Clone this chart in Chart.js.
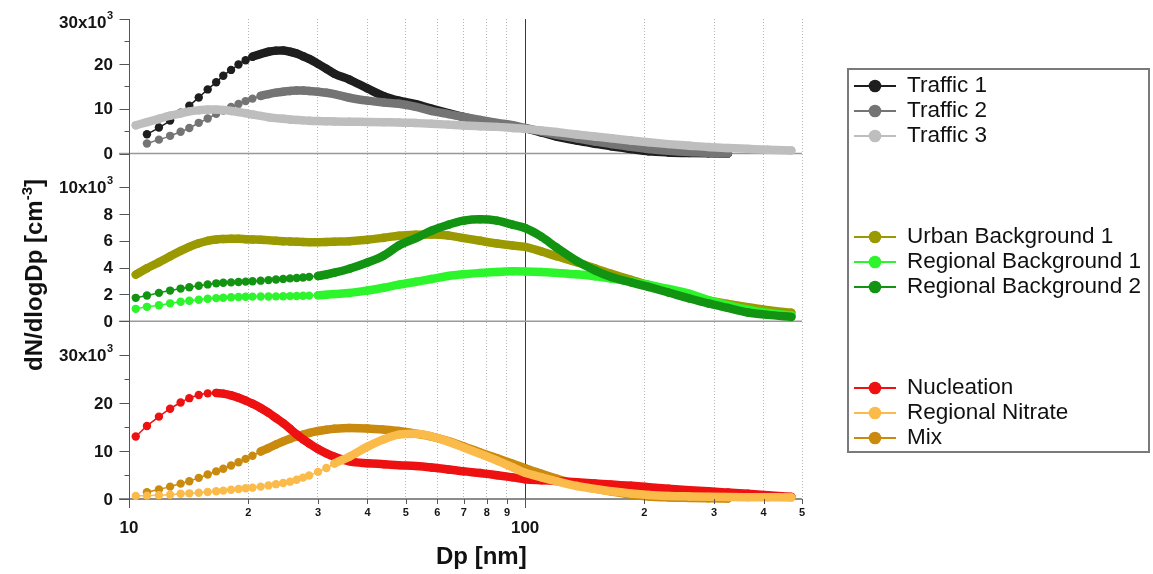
<!DOCTYPE html>
<html>
<head>
<meta charset="utf-8">
<title>Particle number size distributions</title>
<script src="https://cdn.jsdelivr.net/npm/chart.js@4.4.1/dist/chart.umd.min.js"></script>
<style>
  html, body { margin: 0; padding: 0; background: #fff; }
  #wrap { position: relative; width: 1153px; height: 574px; overflow: hidden;
          font-family: 'Liberation Sans', Arial, sans-serif; color: #111; }
  #plot { position: absolute; left: 0; top: 0; }
  .axis-title { position: absolute; font-weight: bold; font-size: 24px; white-space: nowrap; }
  #ytitle { left: -86px; top: 260px; width: 240px; height: 30px; line-height: 30px;
            text-align: center; transform: rotate(-90deg); }
  #ytitle sup { font-size: 15px; line-height: 0; vertical-align: 0; position: relative; top: -10px; }
  #xtitle { left: 436px; top: 542px; line-height: 28px; }
  #legend { position: absolute; left: 847px; top: 68px; width: 303px; height: 385px;
            border: 2px solid #7a7a7a; box-sizing: border-box; }
  .entry { position: absolute; left: 854px; height: 25px; display: flex; align-items: center;
           font-size: 22.5px; white-space: nowrap; }
  .entry span { margin-left: 11px; position: relative; top: -1px; }
</style>
</head>
<body>
<div id="wrap">
  <canvas id="plot" width="1153" height="574"></canvas>
  <div id="ytitle" class="axis-title">dN/dlogDp [cm<sup>-3</sup>]</div>
  <div id="xtitle" class="axis-title">Dp [nm]</div>
  <div id="legend"></div>
</div>
<script>
const FONT = "'Liberation Sans', Arial, sans-serif";

// mobility diameter bins, nm
const dp = [10.4, 11.1, 11.9, 12.7, 13.5, 14.2, 15.0, 15.8, 16.6, 17.3, 18.1, 18.9, 19.7, 20.5,
  21.5, 22.5, 23.5, 24.5, 25.5, 26.5, 27.5, 28.5, 30, 31.5, 33,
  36, 40, 44, 48, 53, 58, 64, 70, 77, 85, 93, 100, 110, 120, 135, 150, 165, 185, 205, 230, 260, 290, 325, 365, 410, 470];

// dN/dlogDp, cm-3
const traffic1 = [null, 4300, 5800, 7350, 9100, 10650, 12500, 14300, 15900, 17350, 18650, 19850, 20800, 21600,
  22200, 22700, 22950, 23000, 22700, 22300, 21700, 21100, 20000, 18900, 17800,
  16500, 14500, 12800, 11800, 11000, 10000, 9000, 8150, 7300, 6700, 6100, 5600, 4700, 3800, 2900, 2200, 1600, 1000, 500, 250, 120, 50, 0, null, null, null];
const traffic2 = [null, 2250, 3100, 3950, 4850, 5700, 6850, 7800, 8850, 9600, 10400, 11050, 11700, 12250,
  12850, 13250, 13580, 13800, 13950, 14050, 14050, 13950, 13800, 13550, 13250,
  12450, 11800, 11400, 11100, 10400, 9500, 8800, 8150, 7500, 6850, 6300, 5700, 4900, 4200, 3400, 2700, 2100, 1500, 1000, 600, 320, 170, 50, null, null, null];
const traffic3 = [6300, 7000, 7750, 8450, 8950, 9400, 9650, 9800, 9800, 9700, 9500, 9250, 9000, 8700,
  8400, 8100, 7900, 7750, 7600, 7500, 7400, 7320, 7250, 7200, 7150,
  7100, 7050, 7000, 6950, 6800, 6650, 6450, 6250, 6100, 5950, 5700, 5500, 5150, 4800, 4250, 3800, 3400, 2900, 2500, 2100, 1750, 1450, 1250, 1050, 850, 680];

const urbanBg1 = [3480, 3950, 4400, 4850, 5250, 5550, 5820, 6000, 6100, 6130, 6150, 6150, 6120, 6100,
  6080, 6050, 6000, 5970, 5950, 5930, 5910, 5900, 5900, 5910, 5930,
  5970, 6080, 6230, 6380, 6450, 6470, 6400, 6200, 6000, 5800, 5650, 5550, 5200, 4850, 4400, 3950, 3550, 3100, 2700, 2300, 1900, 1550, 1300, 1060, 830, 640];
const regionalBg1 = [930, 1080, 1200, 1340, 1460, 1530, 1610, 1680, 1730, 1760, 1790, 1810, 1830, 1840,
  1850, 1855, 1860, 1870, 1880, 1890, 1900, 1915, 1945, 1985, 2030,
  2110, 2300, 2500, 2730, 2950, 3150, 3380, 3510, 3610, 3680, 3730, 3720, 3680, 3610, 3500, 3350, 3180, 2960, 2720, 2420, 2050, 1580, 1200, 860, 620, 430];
const regionalBg2 = [1750, 1920, 2120, 2290, 2440, 2540, 2650, 2750, 2830, 2870, 2900, 2930, 2960, 2990,
  3030, 3070, 3120, 3160, 3200, 3230, 3270, 3310, 3380, 3490, 3620,
  3920, 4380, 4900, 5650, 6200, 6750, 7200, 7500, 7600, 7500, 7200, 6950, 6300, 5500, 4500, 3800, 3300, 2900, 2560, 2150, 1700, 1330, 1000, 660, 480, 330];

const nucleation = [13000, 15200, 17150, 18800, 20100, 21000, 21650, 22000, 22100, 21950, 21600, 21100, 20500, 19850,
  18950, 17950, 16850, 15800, 14650, 13450, 12450, 11550, 10400, 9500, 8800,
  7850, 7450, 7250, 7050, 6850, 6550, 6150, 5750, 5400, 4950, 4500, 4100, 3900, 3750, 3500, 3250, 3000, 2750, 2450, 2150, 1850, 1600, 1350, 1100, 800, 450];
const regionalNitrate = [650, 700, 800, 900, 1080, 1180, 1290, 1460, 1600, 1750, 1940, 2100, 2230, 2360,
  2580, 2830, 3090, 3330, 3610, 4000, 4450, 4900, 5650, 6450, 7400,
  8800, 10900, 12450, 13400, 13600, 13050, 11950, 10700, 9400, 8000, 6600, 5450, 4500, 3700, 2700, 2100, 1600, 1150, 850, 650, 530, 450, 400, 370, 350, 330];
const mix = [null, 1420, 2000, 2580, 3200, 3700, 4400, 5100, 5750, 6300, 6980, 7650, 8350, 9000,
  9900, 10600, 11350, 12000, 12550, 13000, 13400, 13750, 14150, 14420, 14620,
  14800, 14700, 14450, 14150, 13600, 13000, 12050, 10950, 9700, 8500, 7350, 6400, 5250, 4250, 3000, 2150, 1550, 900, 520, 330, 230, 160, 100, null, null, null];

// axis ticks
const xTickValues = [10, 20, 30, 40, 50, 60, 70, 80, 90, 100, 200, 300, 400, 500];
const topMajor = [0, 10000, 20000, 30000];
const topMinor = [5000, 15000, 25000];
const midMajor = [0, 2000, 4000, 6000, 8000, 10000];
const botMajor = [0, 10000, 20000, 30000];
const botMinor = [5000, 15000, 25000];

const panels = [
  { axis: 'yTop', major: topMajor, minor: topMinor },
  { axis: 'yMid', major: midMajor, minor: [] },
  { axis: 'yBot', major: botMajor, minor: botMinor }
];

// bandFrom: diameter where the markers merge into a solid band
const series = [
  { label: 'Traffic 1', data: traffic1, color: '#1e1e1e', axis: 'yTop', bandFrom: 20.5, order: 3, legendY: 86 },
  { label: 'Traffic 2', data: traffic2, color: '#747474', axis: 'yTop', bandFrom: 21.5, order: 2, legendY: 111 },
  { label: 'Traffic 3', data: traffic3, color: '#bebebe', axis: 'yTop', bandFrom: 0, order: 1, legendY: 136 },
  { label: 'Urban Background 1', data: urbanBg1, color: '#9a9a00', axis: 'yMid', bandFrom: 0, order: 6, legendY: 237 },
  { label: 'Regional Background 1', data: regionalBg1, color: '#2cf52c', axis: 'yMid', bandFrom: 30, order: 5, legendY: 262 },
  { label: 'Regional Background 2', data: regionalBg2, color: '#129412', axis: 'yMid', bandFrom: 30, order: 4, legendY: 287 },
  { label: 'Nucleation', data: nucleation, color: '#ee1111', axis: 'yBot', bandFrom: 16.6, order: 8, legendY: 388 },
  { label: 'Regional Nitrate', data: regionalNitrate, color: '#fbbb4a', axis: 'yBot', bandFrom: 33, order: 7, legendY: 413 },
  { label: 'Mix', data: mix, color: '#c98a0e', axis: 'yBot', bandFrom: 21.5, order: 9, legendY: 438 }
];

const datasets = series.map(s => ({
  label: s.label,
  data: dp.map((d, i) => ({ x: d, y: s.data[i] })),
  yAxisID: s.axis,
  order: s.order,
  borderColor: s.color,
  backgroundColor: s.color,
  pointBackgroundColor: s.color,
  pointBorderWidth: 0,
  pointRadius: 4.2,
  borderWidth: 1.5,
  borderCapStyle: 'round',
  borderJoinStyle: 'round',
  cubicInterpolationMode: 'monotone',
  clip: 6,
  segment: {
    borderWidth: ctx => (ctx.p0.parsed.x >= s.bandFrom ? 8.5 : 1.5)
  }
}));

const gridColor = v => {
  if (v === 10) return 'rgba(0,0,0,0)';
  if (v === 100) return '#3a3a3a';
  return '#b4b4b4';
};

const drawYLabel = (ctx, text, sup, right, y) => {
  ctx.textBaseline = 'middle';
  let r = right;
  if (sup) {
    ctx.font = 'bold 11px ' + FONT;
    ctx.textAlign = 'left';
    const w = ctx.measureText(sup).width;
    ctx.fillText(sup, right - w, y - 7);
    r = right - w - 0.5;
  }
  ctx.font = 'bold 17px ' + FONT;
  ctx.textAlign = 'right';
  ctx.fillText(text, r, y);
};

// zero lines, left axis, tick marks and tick labels for the three panels
const panelFrame = {
  id: 'panelFrame',
  beforeDatasetsDraw(chart) {
    const { ctx, chartArea: area, scales } = chart;
    ctx.save();
    ctx.lineWidth = 1.5;
    for (const p of panels) {
      const y = scales[p.axis].getPixelForValue(0);
      ctx.strokeStyle = p.axis === 'yBot' ? '#666' : '#999';
      ctx.beginPath();
      ctx.moveTo(area.left - 10, y);
      ctx.lineTo(area.right, y);
      ctx.stroke();
    }
    ctx.restore();
  },
  afterDraw(chart) {
    const { ctx, chartArea: area, scales } = chart;
    const ax = Math.round(area.left) + 0.5;
    const base = area.bottom;
    ctx.save();
    ctx.strokeStyle = '#555';
    ctx.lineWidth = 1;
    ctx.beginPath();
    ctx.moveTo(ax, area.top);
    ctx.lineTo(ax, base + 9);
    ctx.stroke();

    ctx.fillStyle = '#151515';
    for (const p of panels) {
      const s = scales[p.axis];
      ctx.beginPath();
      for (const v of p.major) {
        const y = Math.round(s.getPixelForValue(v)) + 0.5;
        ctx.moveTo(ax - 10, y);
        ctx.lineTo(ax, y);
      }
      for (const v of p.minor) {
        const y = Math.round(s.getPixelForValue(v)) + 0.5;
        ctx.moveTo(ax - 5, y);
        ctx.lineTo(ax, y);
      }
      ctx.stroke();
      const top = p.major[p.major.length - 1];
      for (const v of p.major) {
        const y = Math.max(s.getPixelForValue(v) + 1, area.top + 4);
        if (v === top) drawYLabel(ctx, (v / 1000) + 'x10', '3', ax - 16.5, y);
        else drawYLabel(ctx, String(v / 1000), '', ax - 16.5, y);
      }
    }

    const xs = scales.x;
    ctx.beginPath();
    for (const v of xTickValues) {
      const x = Math.round(xs.getPixelForValue(v)) + 0.5;
      const big = v === 10 || v === 100;
      ctx.moveTo(x, base);
      ctx.lineTo(x, base + (big ? 9 : 5));
    }
    ctx.stroke();
    ctx.textAlign = 'center';
    ctx.textBaseline = 'middle';
    for (const v of xTickValues) {
      const x = xs.getPixelForValue(v);
      if (v === 10 || v === 100) {
        ctx.font = 'bold 17px ' + FONT;
        ctx.fillText(String(v), x, base + 29);
      } else {
        ctx.font = 'bold 11px ' + FONT;
        ctx.fillText(String(Math.round(v / 10 ** Math.floor(Math.log10(v)))), x, base + 14);
      }
    }
    ctx.restore();
  }
};

const panelAxis = (max, weight) => ({
  type: 'linear',
  position: 'left',
  stack: 'panels',
  stackWeight: weight,
  min: 0,
  max,
  ticks: { display: false },
  grid: { display: false },
  border: { display: false },
  afterFit: s => { s.width = 129; }
});

new Chart(document.getElementById('plot'), {
  type: 'line',
  data: { datasets },
  options: {
    responsive: false,
    animation: false,
    events: [],
    layout: { padding: { top: 19, right: 351, left: 0, bottom: 0 } },
    plugins: { legend: { display: false }, tooltip: { enabled: false } },
    scales: {
      x: {
        type: 'logarithmic',
        min: 10,
        max: 500,
        afterBuildTicks: s => { s.ticks = xTickValues.map(v => ({ value: v })); },
        afterFit: s => { s.height = 75; },
        ticks: { display: false },
        grid: {
          drawTicks: false,
          lineWidth: 1,
          color: c => gridColor(c.tick ? c.tick.value : 0)
        },
        border: {
          display: false,
          dash: c => (c.tick && c.tick.value !== 100 ? [1, 2] : [])
        }
      },
      yBot: panelAxis(37000, 177.6),
      yMid: panelAxis(12500, 167.7),
      yTop: panelAxis(30000, 134.5)
    }
  },
  plugins: [panelFrame]
});

// legend, grouped beside each panel
const wrap = document.getElementById('wrap');
for (const s of series) {
  const row = document.createElement('div');
  row.className = 'entry';
  row.style.top = (s.legendY - 12.5) + 'px';
  row.innerHTML =
    '<svg width="42" height="14"><line x1="0" y1="7" x2="42" y2="7" stroke="' + s.color +
    '" stroke-width="2"/><circle cx="21" cy="7" r="6.3" fill="' + s.color + '"/></svg>' +
    '<span>' + s.label + '</span>';
  wrap.appendChild(row);
}
</script>
</body>
</html>
